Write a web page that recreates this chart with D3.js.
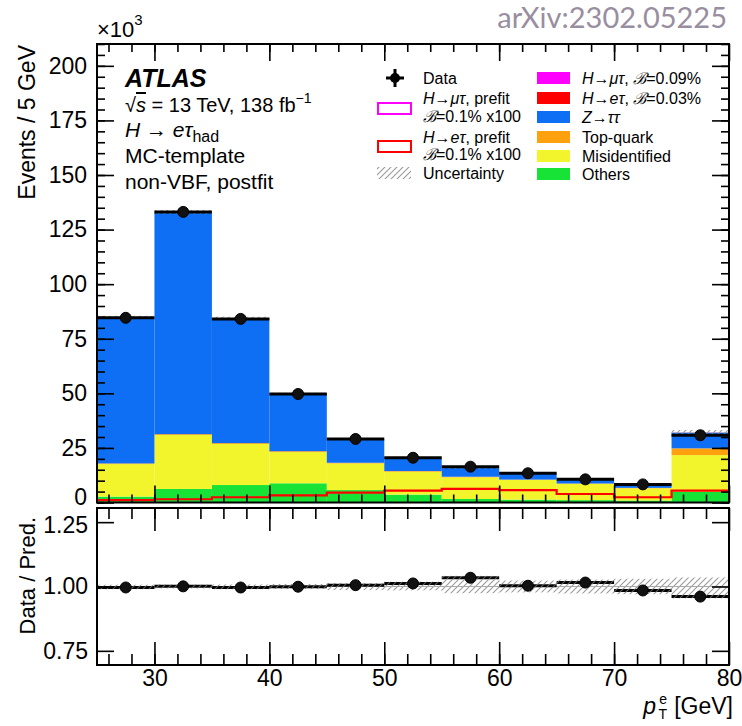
<!DOCTYPE html>
<html><head><meta charset="utf-8">
<script src="https://cdn.jsdelivr.net/npm/d3@7"></script>
<style>
body{margin:0;background:#fff}
svg{display:block}
text{font-family:"Liberation Sans",Arial,Helvetica,sans-serif;fill:#000}
</style>
</head><body>
<svg id="c" width="742" height="726"></svg>
<script>
// ---------- data (events in units of 10^3) ----------
const binLow = [25, 30, 35, 40, 45, 50, 55, 60, 65, 70, 75];
const binWidth = 5;
const dataVals   = [84.6, 133.1, 84.1, 49.7, 29.1, 20.5, 16.4, 13.4, 10.6, 8.3, 30.8];
const others     = [2.7, 6.2, 8.0, 8.8, 5.7, 3.6, 1.6, 1.3, 1.1, 0.9, 4.9];
const misid      = [14.9, 24.7, 18.8, 14.3, 12.2, 10.5, 9.9, 9.0, 7.4, 5.6, 16.8];
const topQuark   = [0.3, 0.4, 0.4, 0.4, 0.3, 0.3, 0.3, 0.2, 0.2, 0.2, 3.1];
const ztautau    = [67.0, 101.7, 57.2, 26.2, 10.7, 5.8, 4.0, 2.8, 1.7, 1.7, 7.2];
const hEtau      = [0.01, 0.01, 0.02, 0.03, 0.04, 0.05, 0.05, 0.05, 0.03, 0.02, 0.05];
const hMutau     = [0.01, 0.01, 0.01, 0.01, 0.01, 0.01, 0.01, 0.01, 0.01, 0.01, 0.01];
const hEtauPrefitX100 = [1.1, 1.5, 2.4, 3.3, 4.5, 5.4, 6.2, 5.7, 3.9, 2.4, 5.4];
const uncRel     = [0.007, 0.007, 0.008, 0.010, 0.014, 0.015, 0.026, 0.023, 0.027, 0.030, 0.035];
const yMajorTicks = [0, 25, 50, 75, 100, 125, 150, 175, 200];
const ratioTicks  = [0.75, 1.00, 1.25];
const xMajorTicks = [30, 40, 50, 60, 70, 80];

const stackKeys   = ["others", "misid", "top", "ztt", "hetau", "hmutau"];
const stackColors = {others:"#17e236", misid:"#f2f52b", top:"#ffa00f", ztt:"#0e6ff4", hetau:"#ff0000", hmutau:"#ff00ff"};

// ---------- layout ----------
const L = 97, R = 729;
const topY0 = 44, topY1 = 502.5;
const ratY0 = 508, ratY1 = 665;

const svg = d3.select("#c");
const defs = svg.append("defs");
const pat = defs.append("pattern").attr("id","hatch").attr("patternUnits","userSpaceOnUse")
  .attr("width",6).attr("height",6);
pat.append("path").attr("d","M-1,1 l2,-2 M0,6 l6,-6 M5,7 l2,-2")
  .attr("stroke","#9a9a9a").attr("stroke-width",1.1);

const x = d3.scaleLinear().domain([25, 80]).range([L, R]);
const y = d3.scaleLinear().domain([0, 210]).range([topY1, topY0]);
const yr = d3.scaleLinear().domain([0.695, 1.305]).range([ratY1, ratY0]);

const rows = binLow.map((b, i) => ({
  low: b, data: dataVals[i], others: others[i], misid: misid[i], top: topQuark[i],
  ztt: ztautau[i], hetau: hEtau[i], hmutau: hMutau[i], prefit: hEtauPrefitX100[i], unc: uncRel[i]
}));
rows.forEach(r => { r.total = stackKeys.reduce((s, k) => s + r[k], 0); r.ratio = r.data / r.total; });

const series = d3.stack().keys(stackKeys)(rows);

// ---------- top panel ----------
const gTop = svg.append("g");
series.forEach(s => {
  gTop.append("g").selectAll("rect").data(s).join("rect")
    .attr("x", d => x(d.data.low))
    .attr("width", d => x(d.data.low + binWidth) - x(d.data.low))
    .attr("y", d => y(d[1]))
    .attr("height", d => Math.max(0, y(d[0]) - y(d[1])))
    .attr("fill", stackColors[s.key]);
});
// uncertainty band
gTop.append("g").selectAll("rect").data(rows).join("rect")
  .attr("x", d => x(d.low))
  .attr("width", d => x(d.low + binWidth) - x(d.low))
  .attr("y", d => y(d.total * (1 + d.unc)))
  .attr("height", d => y(d.total * (1 - d.unc)) - y(d.total * (1 + d.unc)))
  .attr("fill", "url(#hatch)");
// prefit signal line
const stepPts = rows.map(d => [d.low, d.prefit]).concat([[80, rows[rows.length-1].prefit]]);
gTop.append("path")
  .attr("d", d3.line().x(d => x(d[0])).y(d => y(d[1])).curve(d3.curveStepAfter)(stepPts))
  .attr("fill","none").attr("stroke","#ff0000").attr("stroke-width",2.2);
// data
gTop.append("g").selectAll("line").data(rows).join("line")
  .attr("x1", d => x(d.low)).attr("x2", d => x(d.low + binWidth))
  .attr("y1", d => y(d.data)).attr("y2", d => y(d.data))
  .attr("stroke","#000").attr("stroke-width",3);
gTop.append("g").selectAll("circle").data(rows).join("circle")
  .attr("cx", d => x(d.low + binWidth/2)).attr("cy", d => y(d.data)).attr("r", 5.5)
  .attr("fill","#111").attr("stroke","#000").attr("stroke-width",1);

// ---------- ratio panel ----------
const gRat = svg.append("g");
gRat.append("g").selectAll("rect").data(rows).join("rect")
  .attr("x", d => x(d.low))
  .attr("width", d => x(d.low + binWidth) - x(d.low))
  .attr("y", d => yr(1 + d.unc))
  .attr("height", d => yr(1 - d.unc) - yr(1 + d.unc))
  .attr("fill", "url(#hatch)");
gRat.append("line").attr("x1", x(25)).attr("x2", x(80)).attr("y1", yr(1)).attr("y2", yr(1))
  .attr("stroke","#aaa").attr("stroke-width",1);
gRat.append("g").selectAll("line").data(rows).join("line")
  .attr("x1", d => x(d.low)).attr("x2", d => x(d.low + binWidth))
  .attr("y1", d => yr(d.ratio)).attr("y2", d => yr(d.ratio))
  .attr("stroke","#000").attr("stroke-width",3);
gRat.append("g").selectAll("rect.ov").data(rows).join("rect")
  .attr("x", d => x(d.low))
  .attr("width", d => x(d.low + binWidth) - x(d.low))
  .attr("y", d => yr(d.ratio) - 2)
  .attr("height", 4)
  .attr("fill", "url(#hatch)").attr("opacity", 0.6);
gRat.append("g").selectAll("circle").data(rows).join("circle")
  .attr("cx", d => x(d.low + binWidth/2)).attr("cy", d => yr(d.ratio)).attr("r", 5.5)
  .attr("fill","#111").attr("stroke","#000").attr("stroke-width",1);

// ---------- axes ----------
function styleAxis(g, fs) {
  g.select(".domain").remove();
  g.selectAll(".tick line").attr("stroke","#000").attr("stroke-width",1.6);
  g.selectAll(".tick text").attr("font-size", fs).attr("fill","#000")
    .attr("font-family","'Liberation Sans',Arial,sans-serif");
}
const yMinor = d3.range(0, 211, 5);
const xMinor = d3.range(26, 80, 2);
// top panel y
const yAx = svg.append("g").attr("transform",`translate(${L},0)`)
  .call(d3.axisLeft(y).tickValues(yMajorTicks).tickSize(-17).tickPadding(10).tickFormat(d3.format("d")));
styleAxis(yAx, 23);
yAx.selectAll(".tick text").filter(d => d === 0).attr("dy", "0.1em");
styleAxis(svg.append("g").attr("transform",`translate(${L},0)`)
  .call(d3.axisLeft(y).tickValues(yMinor).tickSize(-8).tickFormat("")), 0);
styleAxis(svg.append("g").attr("transform",`translate(${R},0)`)
  .call(d3.axisRight(y).tickValues(yMajorTicks).tickSize(-17).tickFormat("")), 0);
styleAxis(svg.append("g").attr("transform",`translate(${R},0)`)
  .call(d3.axisRight(y).tickValues(yMinor).tickSize(-8).tickFormat("")), 0);
// top panel x
styleAxis(svg.append("g").attr("transform",`translate(0,${topY1})`)
  .call(d3.axisBottom(x).tickValues(xMajorTicks).tickSize(-17).tickFormat("")), 0);
styleAxis(svg.append("g").attr("transform",`translate(0,${topY1})`)
  .call(d3.axisBottom(x).tickValues(xMinor).tickSize(-8).tickFormat("")), 0);
styleAxis(svg.append("g").attr("transform",`translate(0,${topY0})`)
  .call(d3.axisTop(x).tickValues(xMajorTicks).tickSize(-17).tickFormat("")), 0);
styleAxis(svg.append("g").attr("transform",`translate(0,${topY0})`)
  .call(d3.axisTop(x).tickValues(xMinor).tickSize(-8).tickFormat("")), 0);
// ratio y
const yrAx = svg.append("g").attr("transform",`translate(${L},0)`)
  .call(d3.axisLeft(yr).tickValues(ratioTicks).tickSize(-17).tickPadding(9).tickFormat(d3.format(".2f")));
styleAxis(yrAx, 23);
yrAx.selectAll(".tick text").filter(d => d === 1.25).attr("dy", "0.45em");
styleAxis(svg.append("g").attr("transform",`translate(${R},0)`)
  .call(d3.axisRight(yr).tickValues(ratioTicks).tickSize(-17).tickFormat("")), 0);
// ratio x
styleAxis(svg.append("g").attr("transform",`translate(0,${ratY1})`)
  .call(d3.axisBottom(x).tickValues(xMajorTicks).tickSize(-23).tickPadding(5).tickFormat(d3.format("d"))), 23);
styleAxis(svg.append("g").attr("transform",`translate(0,${ratY1})`)
  .call(d3.axisBottom(x).tickValues(xMinor).tickSize(-11).tickFormat("")), 0);
styleAxis(svg.append("g").attr("transform",`translate(0,${ratY0})`)
  .call(d3.axisTop(x).tickValues(xMajorTicks).tickSize(-23).tickFormat("")), 0);
styleAxis(svg.append("g").attr("transform",`translate(0,${ratY0})`)
  .call(d3.axisTop(x).tickValues(xMinor).tickSize(-11).tickFormat("")), 0);

// frames
svg.append("rect").attr("x",L).attr("y",topY0).attr("width",R-L).attr("height",topY1-topY0)
  .attr("fill","none").attr("stroke","#000").attr("stroke-width",2);
svg.append("rect").attr("x",L).attr("y",ratY0).attr("width",R-L).attr("height",ratY1-ratY0)
  .attr("fill","none").attr("stroke","#000").attr("stroke-width",2);

// ---------- axis titles ----------
svg.append("text").attr("transform","translate(35,45) rotate(-90)").attr("text-anchor","end")
  .attr("font-size",23).text("Events / 5 GeV");
svg.append("text").attr("transform","translate(35,517) rotate(-90)").attr("text-anchor","end")
  .attr("font-size",22).text("Data / Pred.");
// x title: p, sub T / sup e, [GeV]
svg.append("text").attr("x",733).attr("y",714).attr("text-anchor","end").attr("font-size",23).text("[GeV]");
svg.append("text").attr("x",667).attr("y",719).attr("text-anchor","end").attr("font-size",14).text("T");
svg.append("text").attr("x",667).attr("y",704).attr("text-anchor","end").attr("font-size",14).text("e");
svg.append("text").attr("x",656).attr("y",714).attr("text-anchor","end").attr("font-size",23)
  .attr("font-style","italic").text("p");
const ex = svg.append("text").attr("x",97).attr("y",37).attr("font-size",22);
ex.append("tspan").text("×10");
ex.append("tspan").attr("font-size",15).attr("dy",-12).text("3");

// watermark
svg.append("text").attr("x",727).attr("y",28).attr("text-anchor","end")
  .attr("font-size",29).style("font-family","Lato, 'Open Sans', sans-serif").style("fill","#998ea0")
  .text("arXiv:2302.05225");

// ---------- ATLAS label ----------
svg.append("text").attr("x",125).attr("y",87).attr("font-size",25).attr("font-weight","bold")
  .attr("font-style","italic").text("ATLAS");
const t1 = svg.append("text").attr("x",125).attr("y",112).attr("font-size",20);
t1.append("tspan").text("√");
t1.append("tspan").attr("font-style","italic").style("text-decoration","overline").text("s");
t1.append("tspan").text(" = 13 TeV, 138 fb");
t1.append("tspan").attr("font-size",14).attr("dy",-9).text("−1");
const t2 = svg.append("text").attr("x",125).attr("y",137).attr("font-size",21);
t2.append("tspan").attr("font-style","italic").text("H");
t2.append("tspan").text(" → ");
t2.append("tspan").attr("font-style","italic").text("eτ");
t2.append("tspan").attr("font-size",16).attr("dy",5).text("had");
svg.append("text").attr("x",125).attr("y",163).attr("font-size",21).text("MC-template");
svg.append("text").attr("x",125).attr("y",189).attr("font-size",21).text("non-VBF, postfit");

// ---------- legend ----------
const lg = svg.append("g").attr("font-size",16);
// data marker
lg.append("line").attr("x1",386).attr("x2",404).attr("y1",78).attr("y2",78).attr("stroke","#000").attr("stroke-width",3);
lg.append("line").attr("x1",395).attr("x2",395).attr("y1",69).attr("y2",87).attr("stroke","#000").attr("stroke-width",3);
lg.append("circle").attr("cx",395).attr("cy",78).attr("r",5).attr("fill","#000");
lg.append("text").attr("x",423).attr("y",84).text("Data");
// prefit boxes
lg.append("rect").attr("x",378).attr("y",103).attr("width",33).attr("height",11).attr("fill","#fff")
  .attr("stroke","#ff00ff").attr("stroke-width",2);
let tt = lg.append("text").attr("x",423).attr("y",104);
tt.append("tspan").attr("font-style","italic").text("H");
tt.append("tspan").text("→");
tt.append("tspan").attr("font-style","italic").text("μτ");
tt.append("tspan").text(", prefit");
tt = lg.append("text").attr("x",423).attr("y",122);
tt.append("tspan").attr("font-style","italic").text("ℬ");
tt.append("tspan").text("=0.1% x100");
lg.append("rect").attr("x",378).attr("y",141).attr("width",33).attr("height",11).attr("fill","#fff")
  .attr("stroke","#ff0000").attr("stroke-width",2);
tt = lg.append("text").attr("x",423).attr("y",143);
tt.append("tspan").attr("font-style","italic").text("H");
tt.append("tspan").text("→");
tt.append("tspan").attr("font-style","italic").text("eτ");
tt.append("tspan").text(", prefit");
tt = lg.append("text").attr("x",423).attr("y",160);
tt.append("tspan").attr("font-style","italic").text("ℬ");
tt.append("tspan").text("=0.1% x100");
lg.append("rect").attr("x",377).attr("y",167).attr("width",34).attr("height",12).attr("fill","url(#hatch)");
lg.append("text").attr("x",423).attr("y",179).text("Uncertainty");
// filled boxes column 2
const col2 = [
  {key:"hmutau", y:78, parts:[["H",1],["→",0],["μτ",1],[", ",0],["ℬ",1],["=0.09%",0]]},
  {key:"hetau",  y:98, parts:[["H",1],["→",0],["eτ",1],[", ",0],["ℬ",1],["=0.03%",0]]},
  {key:"ztt",    y:117, parts:[["Z",1],["→",0],["ττ",1]]},
  {key:"top",    y:137, parts:[["Top-quark",0]]},
  {key:"misid",  y:156, parts:[["Misidentified",0]]},
  {key:"others", y:174, parts:[["Others",0]]}
];
col2.forEach(e => {
  lg.append("rect").attr("x",537).attr("y",e.y-6).attr("width",33).attr("height",12)
    .attr("fill",stackColors[e.key]);
  const t = lg.append("text").attr("x",582).attr("y",e.y+6);
  e.parts.forEach(p => t.append("tspan").attr("font-style", p[1] ? "italic" : "normal").text(p[0]));
});
</script>
</body></html>
